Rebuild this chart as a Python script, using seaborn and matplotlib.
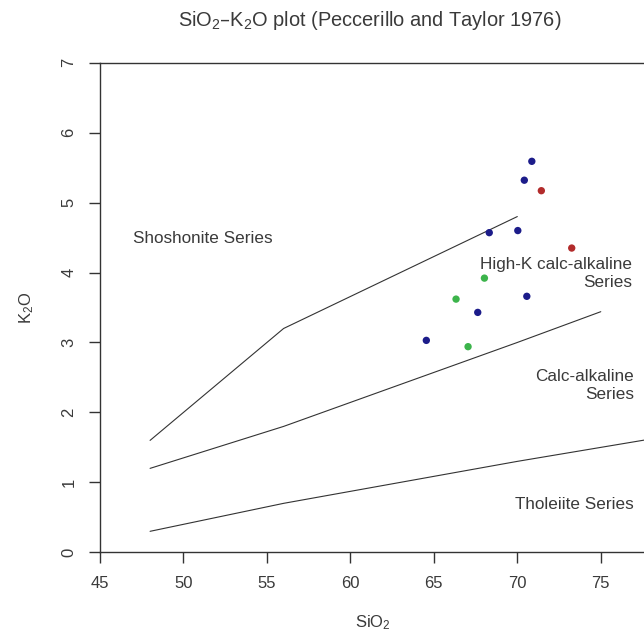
import matplotlib
matplotlib.use("Agg")
import matplotlib.pyplot as plt
import seaborn as sns
import pandas as pd

# Pontos das amostras
sio2 = [70.87, 70.42, 71.44, 68.32, 70.03, 73.26, 68.03, 66.33, 70.57, 67.63, 64.55, 67.05]
k2o = [5.59, 5.32, 5.17, 4.57, 4.60, 4.35, 3.92, 3.62, 3.66, 3.43, 3.03, 2.94]
grupo = ["azul", "azul", "vermelho", "azul", "azul", "vermelho",
         "verde", "verde", "azul", "azul", "azul", "verde"]

# Linhas de divisão (Peccerillo and Taylor 1976)
shosh_x = [48, 56, 63, 70]
shosh_y = [1.6, 3.2, 4.0, 4.8]
highk_x = [48, 56, 63, 70, 75]
highk_y = [1.2, 1.8, 2.4, 3.0, 3.44]
thol_x = [48, 56, 63, 70, 80]
thol_y = [0.3, 0.7, 1.0, 1.3, 1.7]

cores = {"azul": "#1c1c8a", "verde": "#3cb44b", "vermelho": "#b22b2b"}

sns.set_style("ticks")
plt.rcParams["font.family"] = ["Liberation Sans", "DejaVu Sans"]
plt.rcParams["mathtext.default"] = "regular"

cor_texto = "#3a3a3a"

fig = plt.figure(figsize=(6.44, 6.36), dpi=100)
ax = fig.add_axes([100 / 644, 83.7 / 636, 545 / 644, 489.6 / 636])

for xs, ys in [(shosh_x, shosh_y), (highk_x, highk_y), (thol_x, thol_y)]:
    ax.plot(xs, ys, color="#333333", lw=0.8)

df = pd.DataFrame({"SiO2": sio2, "K2O": k2o, "grupo": grupo})
sns.scatterplot(data=df, x="SiO2", y="K2O", hue="grupo", palette=cores,
                s=28, edgecolor="none", legend=False, ax=ax, zorder=3)

ax.set_xlim(45, 77.65)
ax.set_ylim(0, 7)
ax.set_xticks([45, 50, 55, 60, 65, 70, 75])
ax.set_yticks(range(8))

for s in ax.spines.values():
    s.set_visible(True)
    s.set_color("#333333")
    s.set_linewidth(1.0)

ax.tick_params(direction="out", length=8, width=1, pad=9, labelsize=12,
               colors="#333333", labelcolor=cor_texto)
for lab in ax.get_yticklabels():
    lab.set_rotation(90)
    lab.set_va("center")

ax.set_xlabel("SiO$_2$", fontsize=12, color=cor_texto, labelpad=16)
ax.set_ylabel("K$_2$O", fontsize=12, color=cor_texto)
ax.yaxis.set_label_coords(-0.117, 0.5)

kw = dict(fontsize=12.3, color=cor_texto, va="center")
ax.text(46.98, 4.48, "Shoshonite Series", ha="left", **kw)
ax.text(76.89, 3.98, "High-K calc-alkaline\nSeries", ha="right",
        multialignment="right", linespacing=1.25, **kw)
ax.text(77.0, 2.38, "Calc-alkaline\nSeries", ha="right",
        multialignment="right", linespacing=1.25, **kw)
ax.text(77.0, 0.69, "Tholeiite Series", ha="right", **kw)

fig.text(370 / 644, 1 - 21 / 636, "SiO$_2$–K$_2$O plot (Peccerillo and Taylor 1976)",
         ha="center", va="center", fontsize=14.4, color=cor_texto)

fig.savefig("out.png", dpi=100)
